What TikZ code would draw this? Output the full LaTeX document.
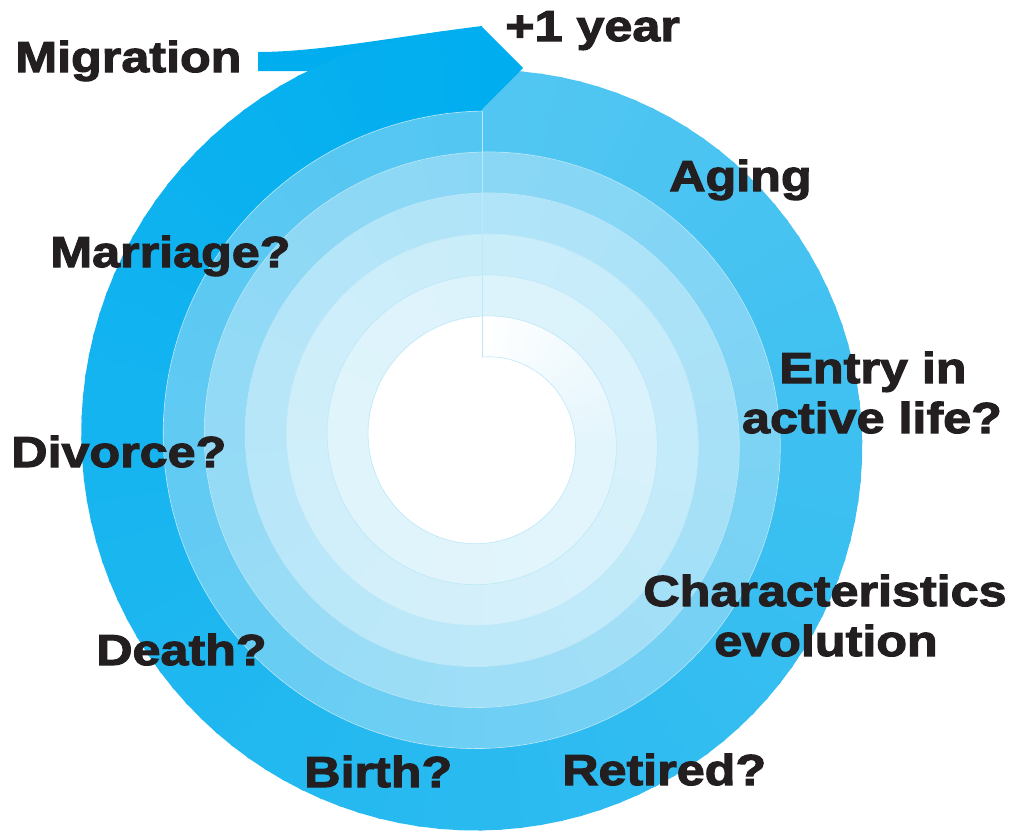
\documentclass[tikz,border=0pt]{standalone}
\usepackage{fontspec}
\newfontfamily\lblfont[FakeStretch=1.16,BoldFeatures={FakeBold=2.6}]{Liberation Sans}
\definecolor{c0}{HTML}{FFFFFF}
\definecolor{c1}{HTML}{E3F5FC}
\definecolor{c2}{HTML}{DDF3FB}
\definecolor{c3}{HTML}{CAEDFA}
\definecolor{c4}{HTML}{B1E4F8}
\definecolor{c5}{HTML}{8AD7F5}
\definecolor{c6}{HTML}{52C6F2}
\definecolor{c7}{HTML}{00AEEF}
\definecolor{txt}{HTML}{231F20}
\definecolor{sline}{HTML}{BDE8F8}
\begin{document}
\begin{tikzpicture}[x=0.75pt,y=-0.75pt,
  lbl/.style={font=\lblfont\bfseries\fontsize{32.5}{38}\selectfont, text=txt, inner sep=0pt},
  spiralline/.style={draw=sline, line width=0.45pt},
  darkfill/.style={fill=c7}]
\useasboundingbox (0,0) rectangle (1013,833);
% tail of the migration arrow
\fill[darkfill] (258,71) -- (320,71) -- (482,80) -- (482,26)
  .. controls (400,36) and (320,52) .. (258,52) -- cycle;
% spiral bands
\foreach \aS/\aE/\ca/\cb in {0/90/c0/c1, 90/360/c1/c2, 360/720/c2/c3, 720/1080/c3/c4, 1080/1440/c4/c5, 1440/1800/c5/c6, 1800/2160/c6/c7}{
  \pgfmathtruncatemacro\firstp{\aS}
  \pgfmathtruncatemacro\secondp{\aS+3}
  \pgfmathtruncatemacro\lastp{\aE-3}
  \foreach \p in {\firstp,\secondp,...,\lastp}{
    \pgfmathtruncatemacro\pct{(\p-\aS)/(\aE-\aS)*100}
    \pgfmathsetmacro\q{min(\p+3.5,2160)}
    \pgfmathsetmacro\w{\p>=1800 ? 720 : 360}
    \pgfmathsetmacro\rA{83+0.1138889*\p}
    \pgfmathsetmacro\rB{83+0.1138889*\q}
    \pgfmathsetmacro\rC{83+0.1138889*(\q+\w)}
    \pgfmathsetmacro\rD{83+0.1138889*(\p+\w)}
    \colorlet{segc}{\cb!\pct!\ca}
    \fill[segc] ({482+\rA*sin(\p)},{440-\rA*cos(\p)}) -- ({482+\rB*sin(\q)},{440-\rB*cos(\q)})
      -- ({482+\rC*sin(\q)},{440-\rC*cos(\q)}) -- ({482+\rD*sin(\p)},{440-\rD*cos(\p)}) -- cycle;
  }
}
% arrow head
\fill[darkfill] (481,110) -- (523,68) -- (481,26) -- cycle;
% thin boundary lines
\draw[spiralline] plot[domain=0:2160, samples=1081, variable=\t]
  ({482+(83+0.1138889*\t)*sin(\t)},{440-(83+0.1138889*\t)*cos(\t)});
\draw[spiralline] (482,357) -- (482,111);
% labels
\node[lbl, anchor=base west] (migration) at (15,72) {Migration};
\node[lbl, anchor=base west] (year) at (505,41) {+1 year};
\node[lbl, anchor=base west] (aging) at (669,191) {Aging};
\node[lbl, anchor=base west] (marriage) at (50,267) {Marriage?};
\node[lbl, anchor=base] (entry1) at (873,383) {Entry in};
\node[lbl, anchor=base] (entry2) at (872,433) {active life?};
\node[lbl, anchor=base west] (divorce) at (11,467) {Divorce?};
\node[lbl, anchor=base] (char1) at (825,606) {Characteristics};
\node[lbl, anchor=base] (char2) at (826,656) {evolution};
\node[lbl, anchor=base west] (death) at (96,665) {Death?};
\node[lbl, anchor=base west] (birth) at (304,787) {Birth?};
\node[lbl, anchor=base west] (retired) at (562,785) {Retired?};
\end{tikzpicture}
\end{document}
